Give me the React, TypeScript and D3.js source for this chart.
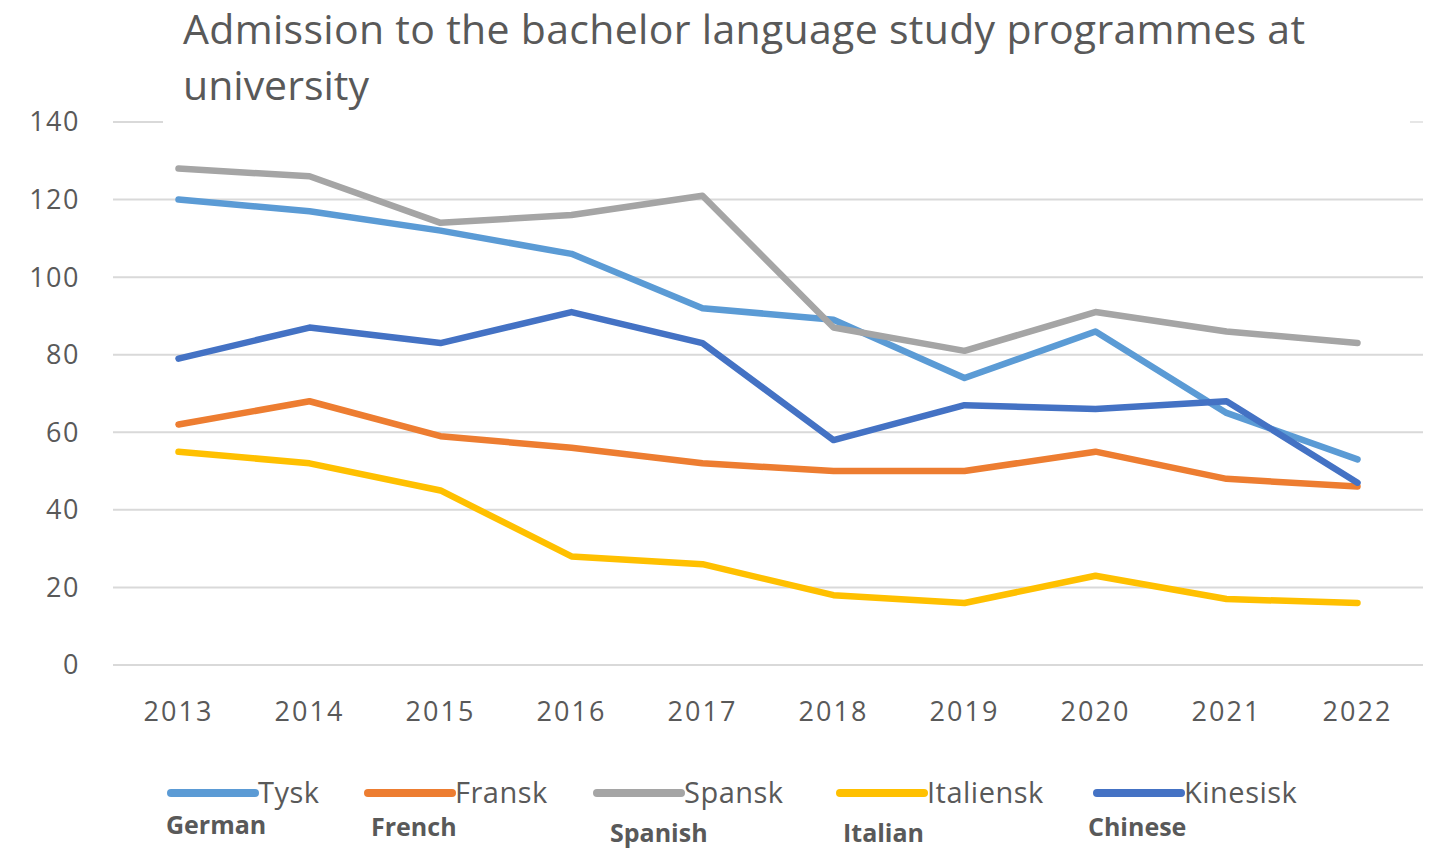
import React from 'react';
import * as d3 from 'd3';

const years = ['2013', '2014', '2015', '2016', '2017', '2018', '2019', '2020', '2021', '2022'];
const yTicks = [0, 20, 40, 60, 80, 100, 120, 140];

const seriesNames = ['Tysk', 'Fransk', 'Spansk', 'Italiensk', 'Kinesisk'];
const englishNames = ['German', 'French', 'Spanish', 'Italian', 'Chinese'];

const tysk = [120, 117, 112, 106, 92, 89, 74, 86, 65, 53];
const fransk = [62, 68, 59, 56, 52, 50, 50, 55, 48, 46];
const spansk = [128, 126, 114, 116, 121, 87, 81, 91, 86, 83];
const italiensk = [55, 52, 45, 28, 26, 18, 16, 23, 17, 16];
const kinesisk = [79, 87, 83, 91, 83, 58, 67, 66, 68, 47];

const colors = ['#5B9BD5', '#ED7D31', '#A5A5A5', '#FFC000', '#4472C4'];

const W = 1433;
const H = 849;
const FONT = '"Open Sans", "Noto Sans", sans-serif';

// legend layout (line start, english label x, english label baseline)
const legendX = [171, 368, 597, 840, 1097];
const englishX = [166, 371, 610, 843, 1088];
const englishY = [834, 836, 842, 842, 836];

export default function App() {
  const x = d3.scaleBand<string>().domain(years).range([113, 1423]);
  const y = d3.scaleLinear().domain([0, 140]).range([665, 122]);
  const cx = (d: string) => (x(d) ?? 0) + x.bandwidth() / 2;

  const line = d3.line<number>()
    .x((_, i) => cx(years[i]))
    .y(v => y(v));

  const values = [tysk, fransk, spansk, italiensk, kinesisk];
  // draw order: keep Chinese on top as in the reference
  const drawOrder = [3, 1, 0, 2, 4];

  return (
    <svg width={W} height={H} style={{ position: 'absolute', left: 0, top: 0, background: '#fff' }}>
      <rect width={W} height={H} fill="#fff" />

      {yTicks.map(t => (
        t === 140 ? (
          <g key={t}>
            <line x1={113} x2={163} y1={y(t)} y2={y(t)} stroke="#d9d9d9" strokeWidth={2} />
            <line x1={1410} x2={1423} y1={y(t)} y2={y(t)} stroke="#e6e6e6" strokeWidth={2} />
          </g>
        ) : (
          <line key={t} x1={113} x2={1423} y1={y(t)} y2={y(t)} stroke="#d9d9d9" strokeWidth={2} />
        )
      ))}

      {yTicks.map(t => (
        <text key={t} x={80} y={y(t)} dy="0.35em" textAnchor="end" fontFamily={FONT} fontSize={27}
          letterSpacing={1.5} fill="#595959">
          {t}
        </text>
      ))}

      {years.map(yr => (
        <text key={yr} x={cx(yr)} y={712} dy="0.35em" textAnchor="middle" fontFamily={FONT} fontSize={27}
          letterSpacing={2} fill="#595959">
          {yr}
        </text>
      ))}

      {drawOrder.map(i => (
        <path key={seriesNames[i]} d={line(values[i]) ?? ''} fill="none" stroke={colors[i]}
          strokeWidth={6.5} strokeLinejoin="round" strokeLinecap="round" />
      ))}

      <text fontFamily={FONT} fontSize={41} fill="#595959">
        <tspan x={183} y={44} textLength={1122} lengthAdjust="spacing">Admission to the bachelor language study programmes at</tspan>
        <tspan x={183} y={100}>university</tspan>
      </text>

      {seriesNames.map((name, i) => (
        <g key={name}>
          <line x1={legendX[i]} x2={legendX[i] + 84} y1={793} y2={793} stroke={colors[i]} strokeWidth={8} strokeLinecap="round" />
          <text x={legendX[i] + 87} y={793} dy="0.35em" fontFamily={FONT} fontSize={29} letterSpacing={0.5} fill="#595959">{name}</text>
          <text x={englishX[i]} y={englishY[i]} fontFamily={FONT} fontSize={25} fontWeight="bold" fill="#595959">
            {englishNames[i]}
          </text>
        </g>
      ))}
    </svg>
  );
}
